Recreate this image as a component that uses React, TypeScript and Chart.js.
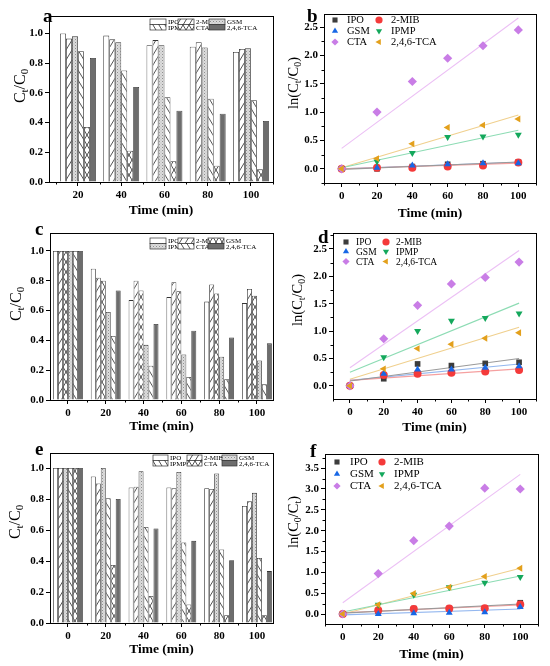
import { useEffect, useRef } from "react";
import { Chart, registerables } from "chart.js";
import { drawPoint } from "chart.js/helpers";

Chart.register(...registerables);

// ---- data ----
const compounds = ["IPO", "2-MIB", "GSM", "IPMP", "CTA", "2,4,6-TCA"];
const timesA = [20, 40, 60, 80, 100];
const timesFull = [0, 20, 40, 60, 80, 100];

// panel a, Ct/C0 (rows follow `compounds`)
const ratioA = [
  [1.0, 0.985, 0.92, 0.91, 0.875],
  [0.965, 0.96, 0.955, 0.94, 0.895],
  [0.98, 0.94, 0.92, 0.905, 0.9],
  [0.88, 0.75, 0.57, 0.56, 0.55],
  [0.37, 0.21, 0.14, 0.11, 0.085],
  [0.835, 0.64, 0.48, 0.46, 0.41],
];
// panel b, ln(C0/Ct)
const lnB = [
  [0, 0.0, 0.04, 0.08, 0.09, 0.12],
  [0, 0.02, 0.02, 0.04, 0.06, 0.11],
  [0, 0.02, 0.06, 0.08, 0.1, 0.1],
  [0, 0.13, 0.28, 0.56, 0.57, 0.6],
  [0, 1.0, 1.54, 1.95, 2.17, 2.45],
  [0, 0.18, 0.44, 0.73, 0.77, 0.88],
];
// fitted lines: value at 0 min, value at 100 min
const fitB = [[-0.01, 0.12], [0.0, 0.1], [0.0, 0.115], [0.02, 0.68], [0.36, 2.66], [0.02, 0.95]];

// panel c
const ratioC = [
  [1.0, 0.88, 0.67, 0.69, 0.66, 0.65],
  [1.0, 0.82, 0.8, 0.79, 0.775, 0.745],
  [1.0, 0.8, 0.735, 0.73, 0.715, 0.7],
  [1.0, 0.59, 0.37, 0.305, 0.29, 0.265],
  [1.0, 0.43, 0.23, 0.155, 0.14, 0.105],
  [1.0, 0.735, 0.51, 0.465, 0.42, 0.38],
];
// panel d
const lnD = [
  [0, 0.13, 0.4, 0.37, 0.41, 0.43],
  [0, 0.2, 0.22, 0.24, 0.26, 0.29],
  [0, 0.22, 0.3, 0.3, 0.33, 0.36],
  [0, 0.52, 1.0, 1.19, 1.24, 1.32],
  [0, 0.86, 1.47, 1.86, 1.98, 2.26],
  [0, 0.31, 0.68, 0.76, 0.87, 0.97],
];
const fitD = [[0.09, 0.5], [0.1, 0.31], [0.1, 0.4], [0.25, 1.51], [0.33, 2.47], [0.12, 1.07]];

// panel e
const ratioE = [
  [1.0, 0.945, 0.875, 0.875, 0.87, 0.755],
  [1.0, 0.9, 0.88, 0.87, 0.865, 0.785],
  [1.0, 1.0, 0.98, 0.975, 0.965, 0.84],
  [1.0, 0.805, 0.62, 0.52, 0.475, 0.42],
  [1.0, 0.375, 0.175, 0.12, 0.05, 0.05],
  [1.0, 0.8, 0.61, 0.53, 0.405, 0.335],
];
// panel f
const lnF = [
  [0, 0.06, 0.13, 0.13, 0.14, 0.27],
  [0, 0.09, 0.12, 0.13, 0.14, 0.23],
  [0, 0.0, 0.02, 0.03, 0.04, 0.17],
  [0, 0.22, 0.46, 0.64, 0.75, 0.89],
  [0, 0.97, 1.76, 2.11, 3.02, 3.0],
  [0, 0.22, 0.49, 0.64, 0.9, 1.1],
];
const fitF = [[0.02, 0.24], [0.03, 0.22], [-0.02, 0.12], [0.05, 0.91], [0.27, 3.35], [0.0, 1.1]];

// ---- styles ----
const serif = "'Liberation Serif', 'DejaVu Serif', 'Times New Roman', serif";
const markerColors = ["#3c3c3c", "#f43a3a", "#1767e6", "#14a85c", "#c97de6", "#e3a01c"];
const fitColors = ["#9a9a9a", "#f5a0a0", "#93b7ef", "#8ddcb4", "#ecc0f5", "#f0d08e"];
const pointStyles = ["rect", "circle", "triangle", "triangle", "rectRot", "triangle"];
const pointRotations = [0, 0, 0, 180, 0, -90];
const fillsAE = ["white", "fwd", "dots", "back", "cross", "dark"];
const fillsC = ["white", "fwd", "cross", "dots", "back", "dark"];

type Part = [string, boolean];
const ctParts: Part[] = [["C", false], ["t", true], ["/C", false], ["0", true]];
const lnParts: Part[] = [["ln(C", false], ["t", true], ["/C", false], ["0", true], [")", false]];
const lnInvParts: Part[] = [["ln(C", false], ["0", true], ["/C", false], ["t", true], [")", false]];

interface Panel {
  letter: string;
  kind: "bar" | "ln";
  box: [number, number, number, number]; // canvas left, top, width, height
  frame: [number, number, number, number]; // plot left, top, right, bottom (page coords)
  xRange: [number, number];
  yRange: [number, number];
  yStep: number;
  groupPct?: number;
  times: number[];
  values: number[][];
  fits?: number[][];
  fills?: string[];
  titleY: number;
  yTitle: { x: number; y: number; size: number; parts: Part[] };
  letterAt: [number, number];
  legend: { cols: number[]; textCols?: number[]; rows: number[]; boxW?: number; boxH?: number; font: number };
}

const panels: Panel[] = [
  {
    letter: "a", kind: "bar", box: [0, 0, 275, 222], frame: [49, 16, 273, 182],
    xRange: [6.6, 110.2], yRange: [0, 1.117], yStep: 0.2, groupPct: 0.83, times: timesA, values: ratioA, fills: fillsAE,
    titleY: 211, yTitle: { x: 19, y: 86, size: 16, parts: ctParts }, letterAt: [43, 22],
    legend: { cols: [150, 178, 209], rows: [19, 24.5], boxW: 16, boxH: 5.5, font: 7 },
  },
  {
    letter: "b", kind: "ln", box: [275, 0, 275, 222], frame: [324, 14, 536, 183],
    xRange: [-10, 110], yRange: [-0.25, 2.73], yStep: 0.5, times: timesFull, values: lnB, fits: fitB,
    titleY: 214, yTitle: { x: 293, y: 83, size: 14.5, parts: lnParts }, letterAt: [307, 22],
    legend: { cols: [335, 379], textCols: [347, 391], rows: [20, 31, 42], font: 10.5 },
  },
  {
    letter: "c", kind: "bar", box: [0, 222, 275, 214], frame: [50, 233, 273, 400],
    xRange: [-9.5, 108.5], yRange: [0, 1.12], yStep: 0.2, groupPct: 0.79, times: timesFull, values: ratioC, fills: fillsC,
    titleY: 427, yTitle: { x: 15, y: 304, size: 16, parts: ctParts }, letterAt: [35, 235],
    legend: { cols: [150, 178, 208], rows: [238, 243.5], boxW: 16, boxH: 5.5, font: 7 },
  },
  {
    letter: "d", kind: "ln", box: [275, 222, 275, 214], frame: [333, 233, 536, 399],
    xRange: [-10, 110], yRange: [-0.24, 2.79], yStep: 0.5, times: timesFull, values: lnD, fits: fitD,
    titleY: 428, yTitle: { x: 297, y: 300, size: 14.5, parts: lnParts }, letterAt: [318, 243],
    legend: { cols: [346, 386], textCols: [356, 396], rows: [242, 251.5, 261.5], font: 9.5 },
  },
  {
    letter: "e", kind: "bar", box: [0, 436, 275, 230], frame: [50, 453, 273, 623],
    xRange: [-9.5, 108.5], yRange: [0, 1.097], yStep: 0.2, groupPct: 0.79, times: timesFull, values: ratioE, fills: fillsAE,
    titleY: 650, yTitle: { x: 14, y: 522, size: 16, parts: ctParts }, letterAt: [35, 455],
    legend: { cols: [153, 187, 222], rows: [455, 460.5], boxW: 15, boxH: 5.5, font: 7 },
  },
  {
    letter: "f", kind: "ln", box: [275, 436, 275, 230], frame: [325, 454, 538, 624],
    xRange: [-10, 110], yRange: [-0.24, 3.84], yStep: 0.5, times: timesFull, values: lnF, fits: fitF,
    titleY: 655, yTitle: { x: 293, y: 522, size: 14.5, parts: lnInvParts }, letterAt: [310, 457],
    legend: { cols: [337, 382], textCols: [350, 394], rows: [462, 474, 486], font: 11 },
  },
];

function stepsBetween(lo: number, hi: number, step: number, from: number) {
  const out: { value: number }[] = [];
  for (let k = 0; ; k++) {
    const v = Math.round((from + k * step) * 1000) / 1000;
    if (v > hi + 1e-9) break;
    if (v >= lo - 1e-9) out.push({ value: v });
  }
  return out;
}

function makeFill(kind: string): CanvasPattern | string {
  if (kind === "white") return "#ffffff";
  if (kind === "dark") return "#6d6d6d";
  const tile = document.createElement("canvas");
  const dots = kind === "dots";
  const w = dots ? 3 : 6;
  const h = dots ? 3 : 10;
  tile.width = w;
  tile.height = h;
  const g = tile.getContext("2d")!;
  g.fillStyle = dots ? "#dcdcdc" : "#ffffff";
  g.fillRect(0, 0, w, h);
  if (dots) {
    g.fillStyle = "#8f8f8f";
    g.fillRect(0, 0, 1, 1);
    g.fillStyle = "#b4b4b4";
    g.fillRect(1.5, 1.5, 1, 1);
  } else {
    g.strokeStyle = "#2a2a2a";
    g.lineWidth = 0.8;
    const seg = (x0: number, y0: number, x1: number, y1: number) => {
      for (const dx of [-w, 0, w]) {
        for (const dy of [-h, 0, h]) {
          g.beginPath();
          g.moveTo(x0 + dx, y0 + dy);
          g.lineTo(x1 + dx, y1 + dy);
          g.stroke();
        }
      }
    };
    if (kind === "fwd" || kind === "cross") seg(0, h, w, 0);
    if (kind === "back" || kind === "cross") seg(0, 0, w, h);
  }
  return g.createPattern(tile, "repeat") || "#ffffff";
}

function makeDecor(p: Panel, fills: (CanvasPattern | string)[]) {
  const [cl, ct] = p.box;
  return {
    id: "decor" + p.letter,
    afterDraw(chart: any) {
      const ctx: CanvasRenderingContext2D = chart.ctx;
      const ca = chart.chartArea;
      const xs = chart.scales.x;
      const ys = chart.scales.y;
      ctx.save();
      // frame
      ctx.strokeStyle = "#000";
      ctx.lineWidth = 1;
      ctx.strokeRect(Math.round(ca.left) + 0.5, Math.round(ca.top) + 0.5, Math.round(ca.right - ca.left), Math.round(ca.bottom - ca.top));
      // minor ticks
      ctx.beginPath();
      for (const t of stepsBetween(p.xRange[0], p.xRange[1], 20, -10)) {
        const px = Math.round(xs.getPixelForValue(t.value)) + 0.5;
        ctx.moveTo(px, ca.bottom);
        ctx.lineTo(px, ca.bottom + 2.5);
      }
      if (p.kind === "ln") {
        for (const t of stepsBetween(p.yRange[0], p.yRange[1], 0.5, -0.25)) {
          const py = Math.round(ys.getPixelForValue(t.value)) + 0.5;
          ctx.moveTo(ca.left, py);
          ctx.lineTo(ca.left - 2.5, py);
        }
      }
      ctx.stroke();

      // panel letter
      ctx.fillStyle = "#000";
      ctx.font = `bold 19px ${serif}`;
      ctx.textBaseline = "alphabetic";
      ctx.textAlign = "left";
      ctx.fillText(p.letter, p.letterAt[0] - cl, p.letterAt[1] - ct);

      // y title with subscripts
      const yt = p.yTitle;
      const subSize = yt.size * 0.68;
      const widths = yt.parts.map(([txt, sub]) => {
        ctx.font = `${sub ? subSize : yt.size}px ${serif}`;
        return ctx.measureText(txt).width;
      });
      const total = widths.reduce((a, b) => a + b, 0);
      ctx.translate(yt.x - cl, yt.y - ct);
      ctx.rotate(-Math.PI / 2);
      let cx = -total / 2;
      yt.parts.forEach(([txt, sub], i) => {
        ctx.font = `${sub ? subSize : yt.size}px ${serif}`;
        ctx.fillText(txt, cx, yt.size * 0.35 + (sub ? yt.size * 0.22 : 0));
        cx += widths[i];
      });
      ctx.setTransform(chart.currentDevicePixelRatio, 0, 0, chart.currentDevicePixelRatio, 0, 0);

      // legend
      const lg = p.legend;
      ctx.font = `${lg.font}px ${serif}`;
      ctx.textBaseline = "middle";
      compounds.forEach((name, i) => {
        if (p.kind === "bar") {
          const col = i % 3;
          const row = Math.floor(i / 3);
          const bx = lg.cols[col] - cl;
          const by = lg.rows[row] - ct;
          const bw = lg.boxW || 16;
          const bh = lg.boxH || 5.5;
          ctx.fillStyle = fills[i] as any;
          ctx.fillRect(bx, by, bw, bh);
          ctx.strokeStyle = "#333";
          ctx.lineWidth = 0.7;
          ctx.strokeRect(bx, by, bw, bh);
          ctx.fillStyle = "#000";
          ctx.fillText(name, bx + bw + 2, by + bh / 2 + 0.5);
        } else {
          const col = i % 2;
          const row = Math.floor(i / 2);
          const mx = lg.cols[col] - cl;
          const my = lg.rows[row] - ct;
          ctx.fillStyle = markerColors[i];
          ctx.strokeStyle = markerColors[i];
          drawPoint(ctx, { pointStyle: pointStyles[i] as any, rotation: pointRotations[i], radius: 3.6, borderWidth: 0 }, mx, my);
          ctx.fillStyle = "#000";
          ctx.fillText(name, (lg.textCols as number[])[col] - cl, my + 0.5);
        }
      });
      ctx.restore();
    },
  };
}

function buildConfig(p: Panel): any {
  const [cl, ct, cw, ch] = p.box;
  const [fl, ft, fr, fb] = p.frame;
  const tickFont = { family: serif, size: 11, weight: "bold" as const };
  const titleFont = { family: serif, size: 13.5, weight: "bold" as const };
  const fills = (p.fills || []).map(makeFill);
  const datasets: any[] = [];
  if (p.kind === "bar") {
    p.values.forEach((vals, i) => {
      datasets.push({
        label: compounds[i],
        data: p.times.map((t, j) => ({ x: t, y: vals[j] })),
        backgroundColor: fills[i],
        borderColor: "#333",
        borderWidth: 0.8,
        categoryPercentage: p.groupPct || 0.8,
        barPercentage: 1,
      });
    });
  } else {
    p.values.forEach((vals, i) => {
      datasets.push({
        label: compounds[i],
        data: p.times.map((t, j) => ({ x: t, y: vals[j] })),
        pointStyle: pointStyles[i],
        pointRotation: pointRotations[i],
        pointRadius: i === 4 ? 4.6 : 4,
        backgroundColor: markerColors[i],
        borderColor: markerColors[i],
        borderWidth: 0,
        showLine: false,
        order: 5 - i,
      });
    });
    (p.fits || []).forEach((f, i) => {
      datasets.push({
        label: compounds[i] + " fit",
        data: [{ x: 0, y: f[0] }, { x: 100, y: f[1] }],
        showLine: true,
        pointRadius: 0,
        borderColor: fitColors[i],
        borderWidth: 1.1,
        order: 20 + i,
      });
    });
  }
  const xHeight = ct + ch - fb;
  const titlePad = Math.max(0, ct + ch - p.titleY - (13.5 * 1.2) / 2);
  const xMajor = stepsBetween(p.xRange[0], p.xRange[1], 20, 0);
  const yMajor = stepsBetween(p.yRange[0], p.yRange[1], p.yStep, 0);
  return {
    type: p.kind === "bar" ? "bar" : "scatter",
    data: { datasets },
    options: {
      responsive: false,
      animation: false,
      events: [],
      layout: { padding: { left: 0, top: ft - ct, right: cl + cw - fr, bottom: 0 } },
      plugins: { legend: { display: false }, tooltip: { enabled: false }, title: { display: false } },
      scales: {
        x: {
          type: "linear",
          min: p.xRange[0],
          max: p.xRange[1],
          offset: false,
          afterBuildTicks: (s: any) => { s.ticks = xMajor.map((t) => ({ ...t })); },
          afterFit: (s: any) => { s.height = xHeight; },
          ticks: { font: tickFont, color: "#000", padding: 3, maxRotation: 0, autoSkip: false },
          grid: { display: true, drawOnChartArea: false, drawTicks: true, tickLength: 4, color: "#000", offset: false },
          border: { display: false },
          title: { display: true, text: "Time (min)", font: titleFont, color: "#000", padding: { top: 0, bottom: titlePad } },
        },
        y: {
          type: "linear",
          min: p.yRange[0],
          max: p.yRange[1],
          afterBuildTicks: (s: any) => { s.ticks = yMajor.map((t) => ({ ...t })); },
          afterFit: (s: any) => { s.width = fl - cl; },
          ticks: { font: tickFont, color: "#000", padding: 2, autoSkip: false, callback: (v: number) => Number(v).toFixed(1) },
          grid: { display: true, drawOnChartArea: false, drawTicks: true, tickLength: 4, color: "#000" },
          border: { display: false },
        },
      },
    },
    plugins: [makeDecor(p, fills)],
  };
}

function PanelChart({ p }: { p: Panel }) {
  const ref = useRef<HTMLCanvasElement>(null);
  useEffect(() => {
    if (!ref.current) return;
    const chart = new Chart(ref.current, buildConfig(p));
    return () => chart.destroy();
  }, [p]);
  const [l, t, w, h] = p.box;
  return (
    <canvas
      ref={ref}
      width={w}
      height={h}
      style={{ position: "absolute", left: l, top: t, width: w, height: h }}
      role="img"
      aria-label={`Panel ${p.letter}`}
    />
  );
}

export default function App() {
  return (
    <div style={{ position: "absolute", left: 0, top: 0, width: 550, height: 666, background: "#fff", overflow: "hidden" }}>
      {panels.map((p) => (
        <PanelChart key={p.letter} p={p} />
      ))}
    </div>
  );
}
